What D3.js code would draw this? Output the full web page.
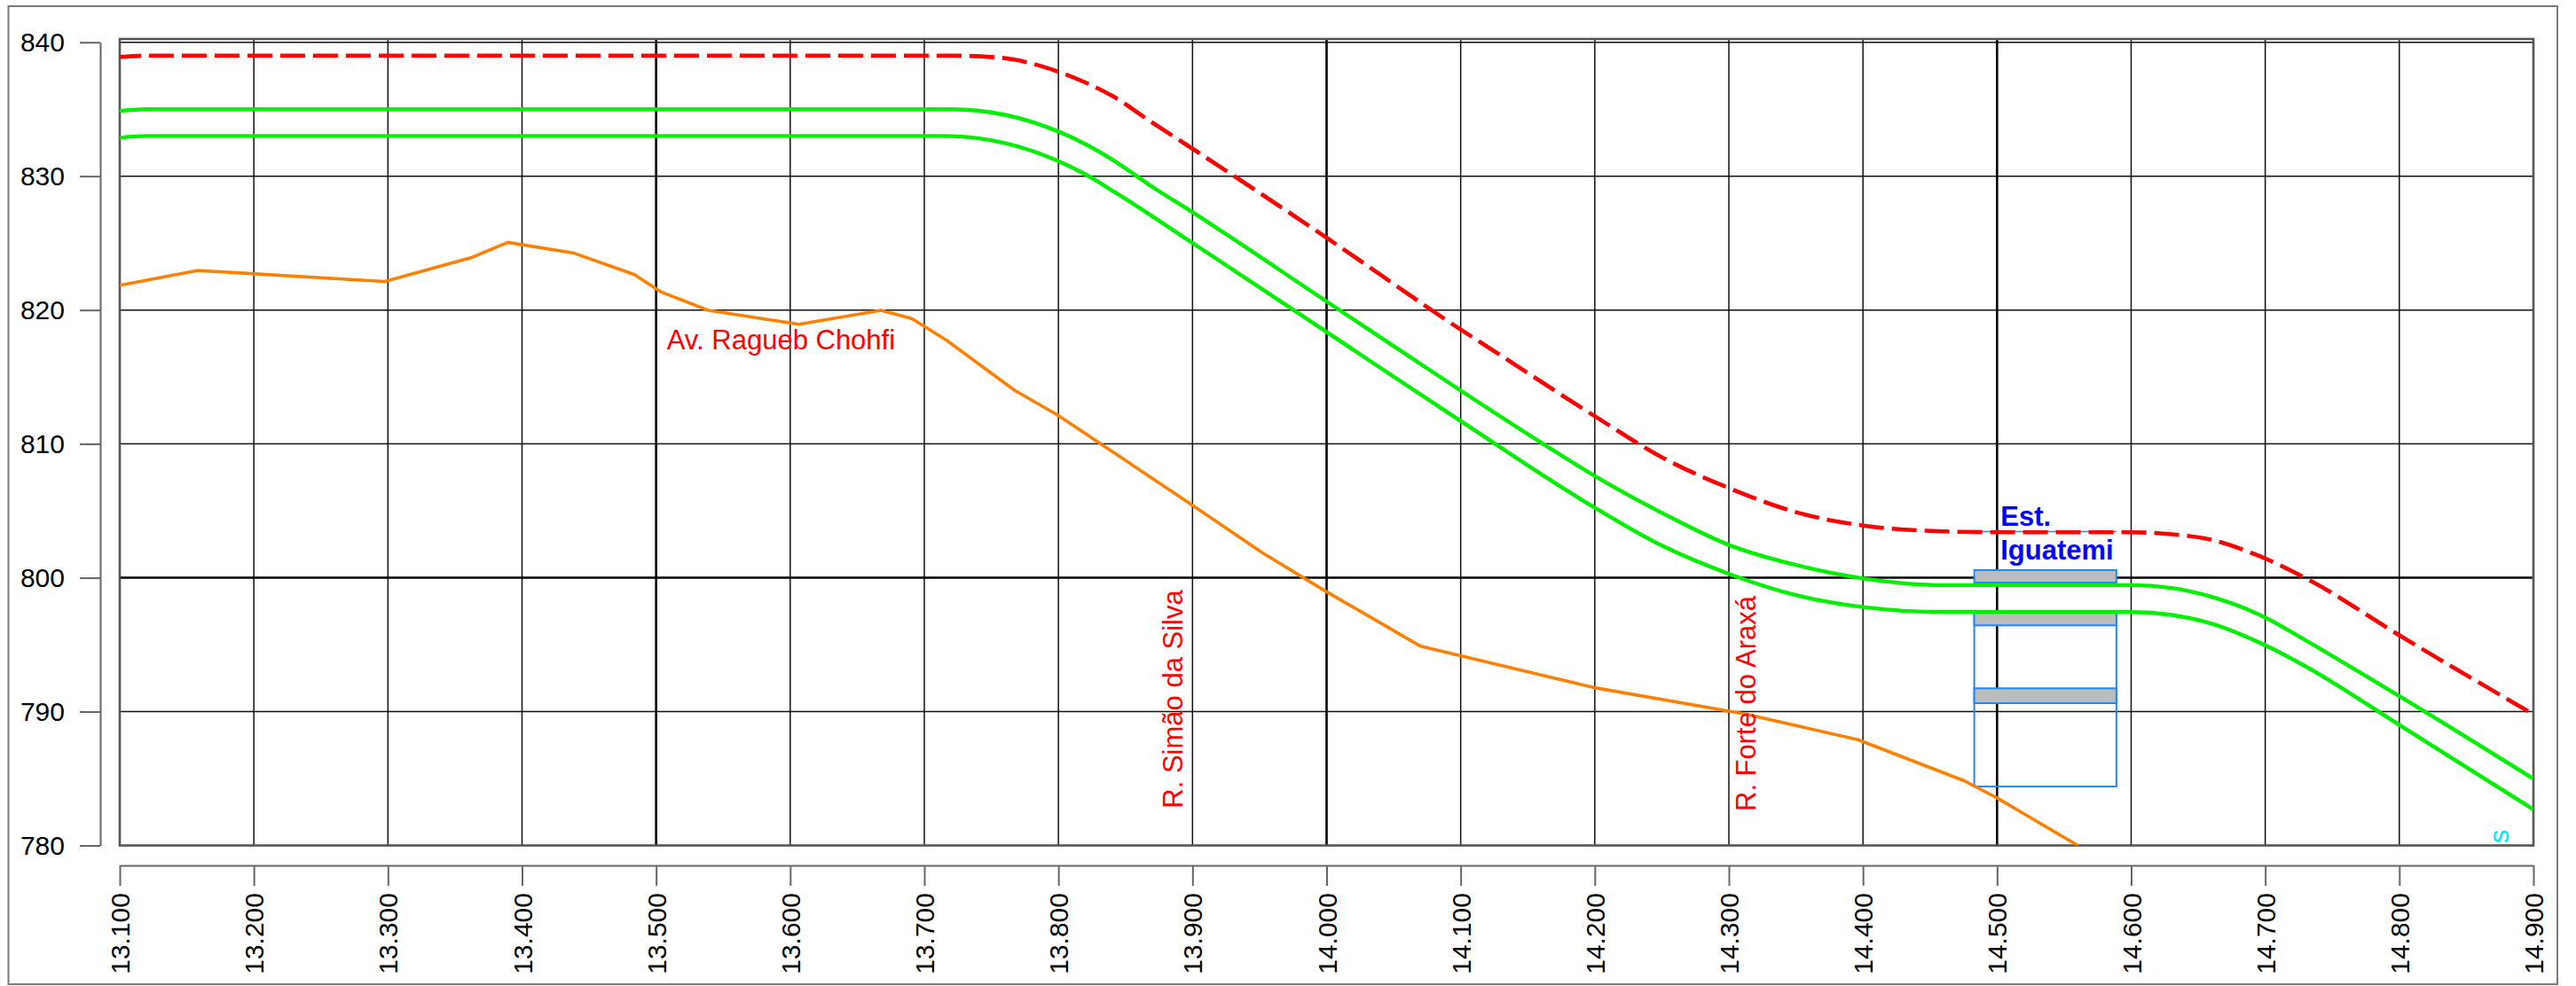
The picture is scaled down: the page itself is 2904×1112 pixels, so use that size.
<!DOCTYPE html>
<html>
<head>
<meta charset="utf-8">
<script src="https://cdn.jsdelivr.net/npm/d3@7"></script>
<style>
  html, body { margin: 0; padding: 0; background: #fff; }
  svg { display: block; }
  text { font-family: "Liberation Sans", Arial, Helvetica, sans-serif; }
</style>
</head>
<body>
<svg id="chart" width="2904" height="1112"></svg>
<script>
// ---- Data -----------------------------------------------------------------
// Chainage (km) ticks and elevation (m) ticks
const xTicks = [13.1, 13.2, 13.3, 13.4, 13.5, 13.6, 13.7, 13.8, 13.9, 14.0,
                14.1, 14.2, 14.3, 14.4, 14.5, 14.6, 14.7, 14.8, 14.9];
const xTickLabels = ["13.100", "13.200", "13.300", "13.400", "13.500", "13.600", "13.700",
                     "13.800", "13.900", "14.000", "14.100", "14.200", "14.300", "14.400",
                     "14.500", "14.600", "14.700", "14.800", "14.900"];
const yTicks = [780, 790, 800, 810, 820, 830, 840];
const xMajor = [13.5, 14.0, 14.5];
const yMajor = [800];

// Dashed red profile [km, elevation]
const profileTop = [
  [13.100, 838.90], [13.120, 839.00], [13.720, 839.00], [13.760, 838.81], [13.780, 838.42],
  [13.800, 837.80], [13.820, 837.00], [13.840, 836.00], [13.870, 834.00], [13.900, 832.05],
  [14.000, 825.40], [14.100, 818.54], [14.130, 816.60], [14.200, 812.07], [14.250, 809.00],
  [14.300, 806.70], [14.350, 804.90], [14.400, 803.90], [14.450, 803.50], [14.500, 803.40],
  [14.600, 803.40], [14.630, 803.25], [14.655, 802.94], [14.700, 801.43], [14.735, 799.70],
  [14.800, 795.70], [14.900, 789.80]
];

// Upper green profile
const tunnelUpper = [
  [13.100, 834.87], [13.119, 835.00], [13.720, 835.00], [13.760, 834.58], [13.780, 834.06],
  [13.800, 833.33], [13.820, 832.40], [13.840, 831.25], [13.870, 829.20], [13.900, 827.30],
  [14.000, 820.64], [14.060, 816.64], [14.100, 813.98], [14.163, 809.90], [14.200, 807.60],
  [14.250, 804.85], [14.300, 802.45], [14.350, 800.95], [14.400, 799.95], [14.460, 799.45],
  [14.600, 799.45], [14.630, 799.23], [14.660, 798.57], [14.700, 797.03], [14.730, 795.33],
  [14.800, 791.15], [14.900, 784.98]
];

// Lower green profile
const tunnelLower = [
  [13.100, 832.87], [13.119, 833.00], [13.715, 833.00], [13.760, 832.47], [13.780, 831.90],
  [13.800, 831.12], [13.820, 830.14], [13.843, 828.74], [13.900, 825.01], [14.000, 818.36],
  [14.100, 811.70], [14.200, 805.23], [14.250, 802.40], [14.300, 800.29], [14.350, 798.70],
  [14.400, 797.81], [14.460, 797.44], [14.600, 797.44], [14.630, 797.22], [14.660, 796.57],
  [14.700, 794.95], [14.730, 793.38], [14.800, 789.00], [14.900, 782.69]
];

// Orange ground line
const terrain = [
  [13.1000, 821.84], [13.1583, 822.95], [13.2975, 822.13], [13.3629, 823.94], [13.3893, 825.05],
  [13.4380, 824.27], [13.4835, 822.66], [13.5039, 821.34], [13.5391, 819.97], [13.6064, 818.93],
  [13.6677, 819.97], [13.6909, 819.35], [13.7163, 817.76], [13.7674, 814.00], [13.7998, 812.13],
  [13.9001, 805.41], [13.9522, 801.86], [13.9988, 799.02], [14.0701, 794.88], [14.1990, 791.80],
  [14.3113, 789.84], [14.3963, 787.90], [14.4758, 784.82], [14.5005, 783.52], [14.5608, 779.97]
];

// Station Iguatemi: chainage span, slabs [top, bottom], lower box, marker level
const stationSpan = [14.483, 14.589];
const stationSlabs = [[800.57, 799.64], [797.40, 796.44], [791.74, 790.63]];
const stationBox = [797.40, 784.40];
const stationMarker = 803.45;
const stationName = ["Est.", "Iguatemi"];

const streetNames = ["Av. Ragueb Chohfi", "R. Simão da Silva", "R. Forte do Araxá"];
const edgeLabel = "s";

// ---- Layout ---------------------------------------------------------------
const svg = d3.select("#chart");
const W = 2904, H = 1112;
const plot = { left: 135, right: 2856, top: 44, bottom: 953.5 };

const x = d3.scaleLinear().domain([13.1, 14.9]).range([plot.left, plot.right]);
const y = d3.scaleLinear().domain([780, 840]).range([953.5, 47.7]);

svg.append("rect").attr("width", W).attr("height", H).attr("fill", "#fff");

// Outer frame
svg.append("rect")
  .attr("x", 9.5).attr("y", 7).attr("width", 2873.5).attr("height", 1103)
  .attr("fill", "none").attr("stroke", "#7a7a7a").attr("stroke-width", 2);

// Clip for plotted series
svg.append("defs").append("clipPath").attr("id", "plotClip")
  .append("rect")
  .attr("x", plot.left).attr("y", plot.top)
  .attr("width", plot.right - plot.left).attr("height", plot.bottom - plot.top);

// ---- Grid -----------------------------------------------------------------
const isMajorX = d => xMajor.some(m => Math.abs(m - d) < 1e-6);
const grid = svg.append("g");
grid.selectAll("line.vx")
  .data(xTicks.slice(1, -1))
  .join("line")
  .attr("x1", d => x(d)).attr("x2", d => x(d))
  .attr("y1", plot.top).attr("y2", plot.bottom)
  .attr("stroke", d => isMajorX(d) ? "#000" : "#111")
  .attr("stroke-width", d => isMajorX(d) ? 2.6 : 1.5);

grid.selectAll("line.hy")
  .data(yTicks.slice(1))
  .join("line")
  .attr("x1", plot.left).attr("x2", plot.right)
  .attr("y1", d => y(d)).attr("y2", d => y(d))
  .attr("stroke", d => yMajor.includes(d) ? "#000" : "#111")
  .attr("stroke-width", d => yMajor.includes(d) ? 2.6 : 1.5);

// Plot frame
svg.append("rect")
  .attr("x", plot.left).attr("y", plot.top)
  .attr("width", plot.right - plot.left).attr("height", plot.bottom - plot.top)
  .attr("fill", "none").attr("stroke", "#555").attr("stroke-width", 2.6);

// ---- Axes -----------------------------------------------------------------
const yAxis = d3.axisLeft(y).tickValues(yTicks).tickSize(23).tickSizeOuter(0)
  .tickPadding(17).tickFormat(d3.format("d"));
const gy = svg.append("g").attr("transform", "translate(113,0)").call(yAxis);
gy.select(".domain").attr("stroke", "#666").attr("stroke-width", 2);
gy.selectAll(".tick line").attr("stroke", "#666").attr("stroke-width", 2);
gy.selectAll(".tick text")
  .attr("font-size", 30).attr("fill", "#000")
  .attr("font-family", "'Liberation Sans', Arial, sans-serif");

const xAxis = d3.axisBottom(x).tickValues(xTicks).tickSize(23).tickSizeOuter(0)
  .tickFormat((d, i) => xTickLabels[i]);
const gx = svg.append("g").attr("transform", "translate(0,976)").call(xAxis);
gx.select(".domain").attr("stroke", "#666").attr("stroke-width", 2);
gx.selectAll(".tick line").attr("stroke", "#666").attr("stroke-width", 2);
gx.selectAll(".tick text")
  .attr("transform", "rotate(-90)")
  .attr("text-anchor", "end")
  .attr("x", -31).attr("y", 0).attr("dy", "0.35em")
  .attr("font-size", 30).attr("fill", "#000")
  .attr("font-family", "'Liberation Sans', Arial, sans-serif");

// ---- Series ---------------------------------------------------------------
const series = svg.append("g").attr("clip-path", "url(#plotClip)");

// Station structure
const st = series.append("g");
st.append("line")
  .attr("x1", x(stationSpan[0])).attr("x2", x(stationSpan[1]))
  .attr("y1", y(stationMarker)).attr("y2", y(stationMarker))
  .attr("stroke", "#1e88ff").attr("stroke-width", 1.6);
st.append("rect")
  .attr("x", x(stationSpan[0])).attr("width", x(stationSpan[1]) - x(stationSpan[0]))
  .attr("y", y(stationBox[0])).attr("height", y(stationBox[1]) - y(stationBox[0]))
  .attr("fill", "none").attr("stroke", "#1e88ff").attr("stroke-width", 2);
st.selectAll("rect.slab")
  .data(stationSlabs)
  .join("rect")
  .attr("x", x(stationSpan[0])).attr("width", x(stationSpan[1]) - x(stationSpan[0]))
  .attr("y", d => y(d[0])).attr("height", d => y(d[1]) - y(d[0]))
  .attr("fill", "#bcbcbc").attr("stroke", "#1e88ff").attr("stroke-width", 2);

const line = d3.line()
  .x(d => x(d[0])).y(d => y(d[1]))
  .curve(d3.curveMonotoneX);

series.append("path").datum(terrain)
  .attr("d", d3.line().x(d => x(d[0])).y(d => y(d[1])))
  .attr("fill", "none").attr("stroke", "#ff8000").attr("stroke-width", 3.6)
  .attr("stroke-linejoin", "round");

series.append("path").datum(tunnelLower)
  .attr("d", line)
  .attr("fill", "none").attr("stroke", "#00f000").attr("stroke-width", 4.4);

series.append("path").datum(tunnelUpper)
  .attr("d", line)
  .attr("fill", "none").attr("stroke", "#00f000").attr("stroke-width", 4.4);

series.append("path").datum(profileTop)
  .attr("d", line)
  .attr("fill", "none").attr("stroke", "#ff0000").attr("stroke-width", 4.6)
  .attr("stroke-dasharray", "28,9").attr("stroke-dashoffset", 4);

// ---- Labels ---------------------------------------------------------------
const labels = svg.append("g").attr("clip-path", "url(#plotClip)");

labels.append("text")
  .attr("x", x(13.508)).attr("y", y(817.04))
  .attr("font-size", 31).attr("fill", "#ff0000")
  .text(streetNames[0]);

labels.append("text")
  .attr("transform", `translate(${x(13.8924)},${y(782.77)}) rotate(-90)`)
  .attr("font-size", 31).attr("fill", "#ff0000")
  .text(streetNames[1]);

labels.append("text")
  .attr("transform", `translate(${x(14.3201)},${y(782.55)}) rotate(-90)`)
  .attr("font-size", 31).attr("fill", "#ff0000")
  .text(streetNames[2]);

labels.selectAll("text.station")
  .data(stationName)
  .join("text")
  .attr("x", x(14.5026))
  .attr("y", (d, i) => i === 0 ? y(803.86) : y(801.38))
  .attr("font-size", 31).attr("font-weight", "bold").attr("fill", "#0000ff")
  .text(d => d);

labels.append("text")
  .attr("transform", `translate(${x(14.8815)},${y(781.2)}) rotate(-90)`)
  .attr("text-anchor", "end")
  .attr("font-size", 31).attr("fill", "#00e5ff")
  .text(edgeLabel);
</script>
</body>
</html>
